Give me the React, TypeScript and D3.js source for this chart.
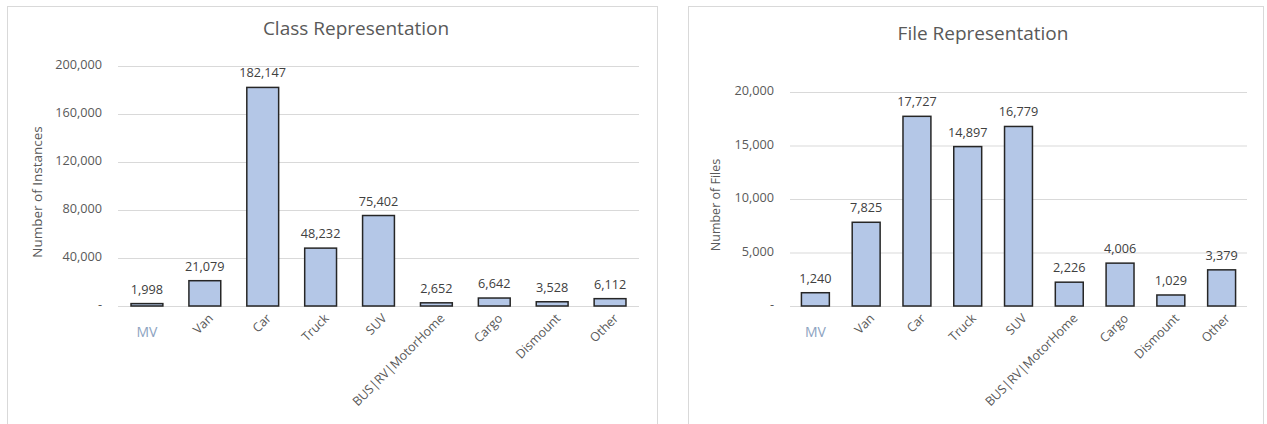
import React from "react";
import * as d3 from "d3";

// vehicle categories shared by both charts
const categories = [
  "MV",
  "Van",
  "Car",
  "Truck",
  "SUV",
  "BUS|RV|MotorHome",
  "Cargo",
  "Dismount",
  "Other",
];
const classCounts = [1998, 21079, 182147, 48232, 75402, 2652, 6642, 3528, 6112];
const fileCounts = [1240, 7825, 17727, 14897, 16779, 2226, 4006, 1029, 3379];
const classTicks = [0, 40000, 80000, 120000, 160000, 200000];
const fileTicks = [0, 5000, 10000, 15000, 20000];

const FONT = "'Open Sans', 'Noto Sans', sans-serif";
const fmt = d3.format(",");

interface PanelProps {
  title: string;
  yLabel: string;
  values: number[];
  ticks: number[];
  frame: [number, number];
  plotX: [number, number];
  top: number;
  titleX: number;
  titleY: number;
  yLabelX: number;
  yLabelSize: number;
}

const BarPanel: React.FC<PanelProps> = ({
  title,
  yLabel,
  values,
  ticks,
  frame,
  plotX,
  top,
  titleX,
  titleY,
  yLabelX,
  yLabelSize,
}) => {
  const base = 306;
  const x = d3.scaleBand<string>().domain(categories).range(plotX).paddingInner(0.45).paddingOuter(0.225);
  const y = d3.scaleLinear().domain([0, ticks[ticks.length - 1]]).range([base, top]);

  return (
    <g>
      <rect
        x={frame[0] + 0.5}
        y={6.5}
        width={frame[1] - frame[0]}
        height={440}
        fill="#fff"
        stroke="#d9d9d9"
        strokeWidth={1}
      />
      <text
        x={titleX}
        y={titleY}
        textAnchor="middle"
        dominantBaseline="middle"
        fontSize={19}
        fill="#595959"
      >
        {title}
      </text>
      {ticks.map((t) => (
        <g key={t}>
          <line x1={plotX[0]} x2={plotX[1]} y1={y(t) + 0.5} y2={y(t) + 0.5} stroke="#d9d9d9" strokeWidth={1} />
          <text
            x={plotX[0] - 16}
            y={y(t)}
            textAnchor="end"
            dominantBaseline="middle"
            fontSize={12.7}
            fill="#595959"
          >
            {t === 0 ? "-" : fmt(t)}
          </text>
        </g>
      ))}
      <text
        transform={`translate(${yLabelX},${(top + base) / 2 + 6}) rotate(-90)`}
        textAnchor="middle"
        dominantBaseline="middle"
        fontSize={yLabelSize}
        fill="#595959"
      >
        {yLabel}
      </text>
      {categories.map((c, i) => {
        const bx = x(c)!;
        const cx = bx + x.bandwidth() / 2;
        return (
          <g key={c}>
            <rect
              x={bx}
              y={y(values[i])}
              width={x.bandwidth()}
              height={base - y(values[i])}
              fill="#b4c7e7"
              stroke="#262626"
              strokeWidth={1.5}
            />
            <text x={cx} y={y(values[i]) - 10} textAnchor="middle" fontSize={12.7} fill="#404040">
              {fmt(values[i])}
            </text>
            {i === 0 ? (
              <text x={cx} y={333} textAnchor="middle" dominantBaseline="middle" fontSize={14} fill="#8da3c1">
                {c}
              </text>
            ) : (
              <text
                transform={`translate(${cx + 6},${316}) rotate(-45)`}
                textAnchor="end"
                dy="0.35em"
                fontSize={12.5}
                fill="#595959"
              >
                {c}
              </text>
            )}
          </g>
        );
      })}
    </g>
  );
};

export default function App() {
  return (
    <div style={{ position: "absolute", left: 0, top: 0 }}>
      <svg width={1267} height={424} style={{ display: "block", fontFamily: FONT }}>
        <rect width={1267} height={424} fill="#fff" />
        <BarPanel
          title="Class Representation"
          yLabel="Number of Instances"
          values={classCounts}
          ticks={classTicks}
          frame={[7, 657]}
          plotX={[118, 639]}
          top={66}
          titleX={356}
          titleY={30}
          yLabelX={38}
          yLabelSize={13.5}
        />
        <BarPanel
          title="File Representation"
          yLabel="Number of Files"
          values={fileCounts}
          ticks={fileTicks}
          frame={[688, 1263]}
          plotX={[790, 1247]}
          top={92}
          titleX={983}
          titleY={35}
          yLabelX={717}
          yLabelSize={12.5}
        />
      </svg>
    </div>
  );
}
